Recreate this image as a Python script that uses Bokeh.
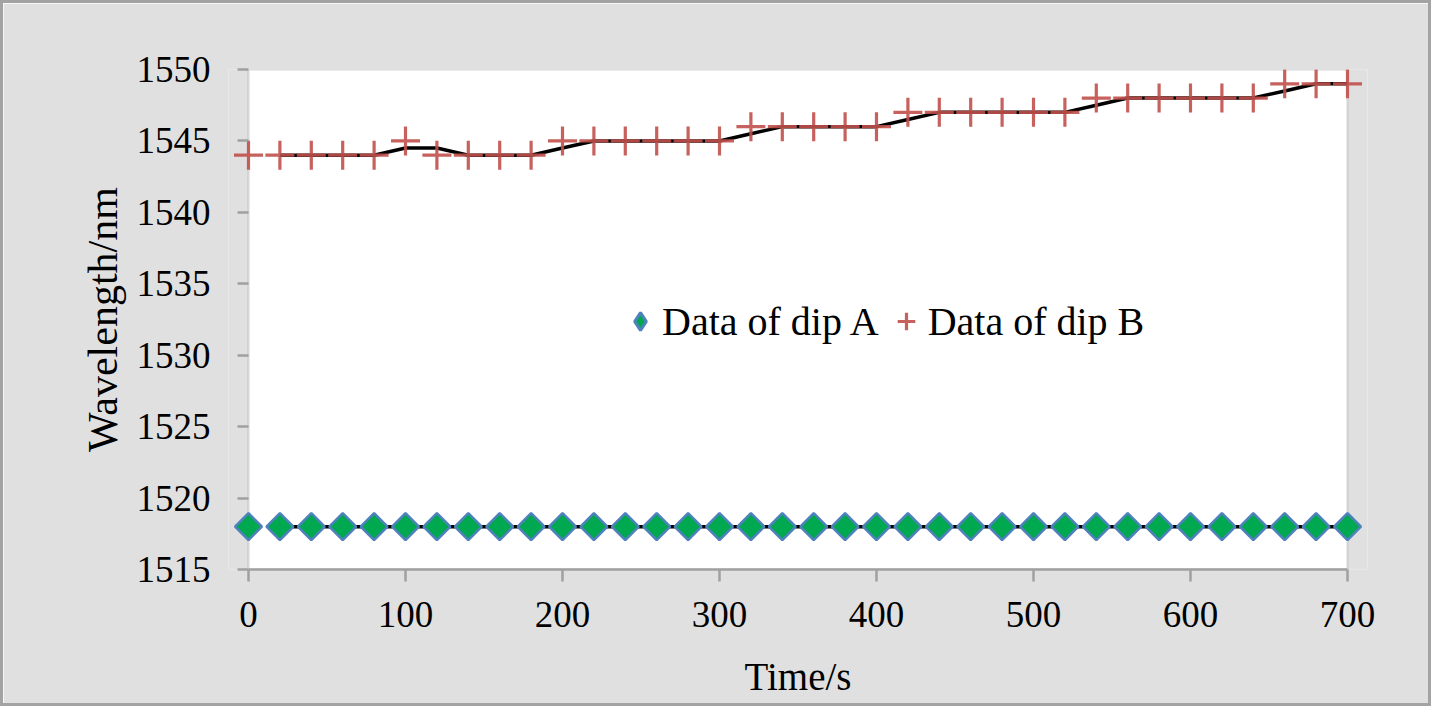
import numpy as np
from bokeh.plotting import figure
from bokeh.models import Range1d, SingleIntervalTicker, Legend, LegendItem, BoxAnnotation
from bokeh.embed import file_html
from bokeh.resources import INLINE

# ---- data ----
time_s = [0, 20, 40, 60, 80, 100, 120, 140, 160, 180, 200, 220, 240, 260, 280, 300,
          320, 340, 360, 380, 400, 420, 440, 460, 480, 500, 520, 540, 560, 580, 600,
          620, 640, 660, 680, 700]
dip_a = [1518] * 36
dip_b = [1544, 1544, 1544, 1544, 1544, 1545, 1544, 1544, 1544, 1544, 1545, 1545,
         1545, 1545, 1545, 1545, 1546, 1546, 1546, 1546, 1546, 1547, 1547, 1547,
         1547, 1547, 1547, 1548, 1548, 1548, 1548, 1548, 1548, 1549, 1549, 1549]
x_limits = [0, 700]
y_limits = [1515, 1550]

x = np.array(time_s, dtype=float)
a = np.array(dip_a, dtype=float)
b = np.array(dip_b, dtype=float)
# 2-period moving average trendlines
ma_x = x[1:]
ma_a = (a[1:] + a[:-1]) / 2
ma_b = (b[1:] + b[:-1]) / 2

FONT = "Liberation Serif"
GRID = "#a0a0a0"
BG = "#e0e0e0"

# frame is padded by 20px each side horizontally so edge markers are not clipped
PADPX = 20
pad = (x_limits[1] - x_limits[0]) * PADPX / 1099
p = figure(width=1431, height=706, output_backend="svg", toolbar_location=None,
           x_range=Range1d(x_limits[0] - pad, x_limits[1] + pad),
           y_range=Range1d(*y_limits),
           min_border_left=225, min_border_right=67, min_border_top=66,
           min_border_bottom=140)
p.styles = {"border": "3px solid #a3a3a3"}
p.border_fill_color = BG
p.background_fill_color = BG
p.outline_line_color = None
p.grid.visible = False

p.add_layout(BoxAnnotation(left=x_limits[0], right=x_limits[1],
                           bottom=y_limits[0], top=y_limits[1],
                           fill_color="white", fill_alpha=1,
                           line_color=GRID, line_width=2.5, level="underlay"))

for ax in (p.xaxis[0], p.yaxis[0]):
    ax.axis_line_color = GRID
    ax.axis_line_width = 2.5
    ax.major_tick_line_color = GRID
    ax.major_tick_line_width = 2.5
    ax.minor_tick_line_color = None
    ax.major_label_text_font = FONT
    ax.major_label_text_font_size = "37px"
    ax.major_label_text_color = "black"
    ax.axis_label_text_font = FONT
    ax.axis_label_text_font_style = "normal"
    ax.axis_label_text_color = "black"

p.xaxis.ticker = SingleIntervalTicker(interval=100)
p.yaxis.ticker = SingleIntervalTicker(interval=5)
p.xaxis.bounds = tuple(x_limits)
p.yaxis.axis_line_color = None
p.xaxis.major_tick_in = 0
p.xaxis.major_tick_out = 12
# y ticks shifted right by the padding so they sit at x = 0
p.yaxis.major_tick_in = PADPX
p.yaxis.major_tick_out = 11 - PADPX
p.xaxis.major_label_standoff = 20
p.yaxis.major_label_standoff = 14
p.xaxis.axis_label = "Time/s"
p.yaxis.axis_label = "Wavelength/nm"
p.xaxis.axis_label_text_font_size = "39px"
p.yaxis.axis_label_text_font_size = "42px"
p.xaxis.axis_label_standoff = 25
p.yaxis.axis_label_standoff = 8

# legend proxy for the diamond (legend ignores marker angle); hidden under marker
ra_leg = p.scatter(x[:1], a[:1], marker="diamond", size=8, fill_color="#00a84f",
                   line_color="#4f81bd", line_width=3)

# trendlines
p.line(ma_x, ma_a, line_color="black", line_width=3.5)
p.line(ma_x, ma_b, line_color="black", line_width=3.5)

ra = p.scatter(x, a, marker="square", angle=np.pi / 4, size=19,
               fill_color="#00a84f", line_color="#4f81bd", line_width=2.5)
rb = p.scatter(x, b, marker="cross", size=29, line_color="#c0504d", line_width=3.2,
               line_alpha=0.9)

legend = Legend(items=[LegendItem(label="Data of dip A", renderers=[ra_leg]),
                       LegendItem(label="Data of dip B", renderers=[rb])],
                orientation="horizontal", location=(390, 223),
                background_fill_alpha=0, border_line_color=None,
                padding=0, margin=0, spacing=5, label_standoff=0,
                glyph_width=44, glyph_height=50,
                label_text_font=FONT, label_text_font_size="40px",
                label_text_color="black")
p.add_layout(legend, "center")

open("out.html", "w").write(file_html(p, INLINE))
